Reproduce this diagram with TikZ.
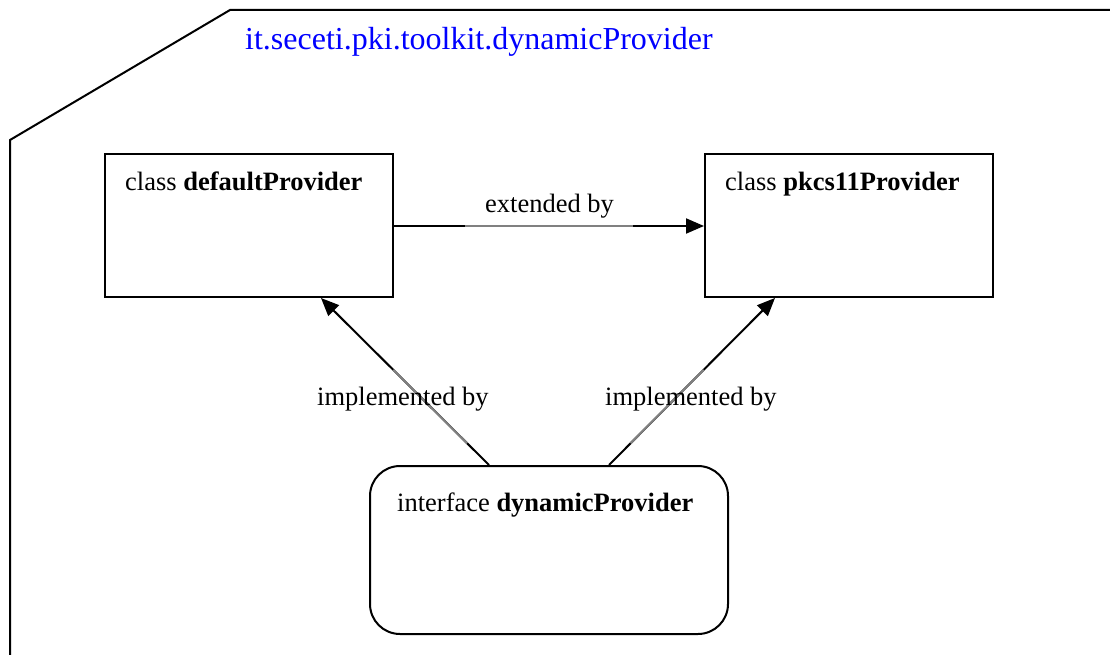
\documentclass[tikz,border=0pt]{standalone}
\usepackage{fontspec}
\setmainfont{Liberation Serif}
\usetikzlibrary{arrows.meta,calc}
\definecolor{pkgblue}{RGB}{0,0,255}
\definecolor{midgray}{RGB}{128,128,128}
\tikzset{
  every picture/.style={x=1pt,y=-1pt},
  frame/.style={draw=black,line width=2pt,line join=miter},
  classbox/.style={draw=black,line width=2pt,minimum width=288pt,minimum height=143pt,inner sep=0pt},
  ifacebox/.style={draw=black,line width=2pt,rounded corners=30pt,minimum width=358pt,minimum height=168pt,inner sep=0pt},
  lbl/.style={inner sep=0pt,anchor=base west,font=\fontsize{26.5}{30}\selectfont},
  conn/.style={draw=black,line width=2pt,-{Triangle[length=18pt,width=15pt]}},
  connmid/.style={draw=midgray,line width=2pt},
}
\begin{document}
\begin{tikzpicture}
\useasboundingbox (0,0) rectangle (1110,655);
% package outline with cut corner
\draw[frame] (10,660) -- (10,140) -- (230,10) -- (1115,10);
\node[lbl,text=pkgblue,font=\fontsize{32}{36}\selectfont] (pkg) at (245,50) {it.seceti.pki.toolkit.dynamicProvider};

% classes and interface
\node[classbox] (dp) at (249,225.5) {};
\node[lbl] (dpt) at (125,190) {class \textbf{defaultProvider}};
\node[classbox] (pp) at (849,225.5) {};
\node[lbl] (ppt) at (725,190) {class \textbf{pkcs11Provider}};
\node[ifacebox] (ifc) at (549,550) {};
\node[lbl] (ifct) at (397,511) {interface \textbf{dynamicProvider}};

% connector end points on the box edges
\coordinate (e1) at ($(dp.east)+(0,0.5)$);
\coordinate (e2) at ($(pp.west)+(0,0.5)$);
\coordinate (l1) at ($(ifc.north west)+(120,0)$);
\coordinate (l2) at ($(dp.south west)+(217,0)$);
\coordinate (r1) at ($(ifc.north west)+(240,0)$);
\coordinate (r2) at ($(pp.south west)+(71,0)$);

% extended by
\draw[conn] (e1) -- (e2);
\draw[connmid] ($(e1)!0.23!(e2)$) -- ($(e1)!0.77!(e2)$);
\node[lbl] (ext) at (485,212) {extended by};

% implemented by (left)
\draw[conn] (l1) -- (l2);
\draw[connmid] ($(l1)!0.13!(l2)$) -- ($(l1)!0.57!(l2)$);
\node[lbl] (impl) at (317,405) {implemented by};

% implemented by (right)
\draw[conn] (r1) -- (r2);
\draw[connmid] ($(r1)!0.13!(r2)$) -- ($(r1)!0.57!(r2)$);
\node[lbl] (impr) at (605,405) {implemented by};
\end{tikzpicture}
\end{document}
